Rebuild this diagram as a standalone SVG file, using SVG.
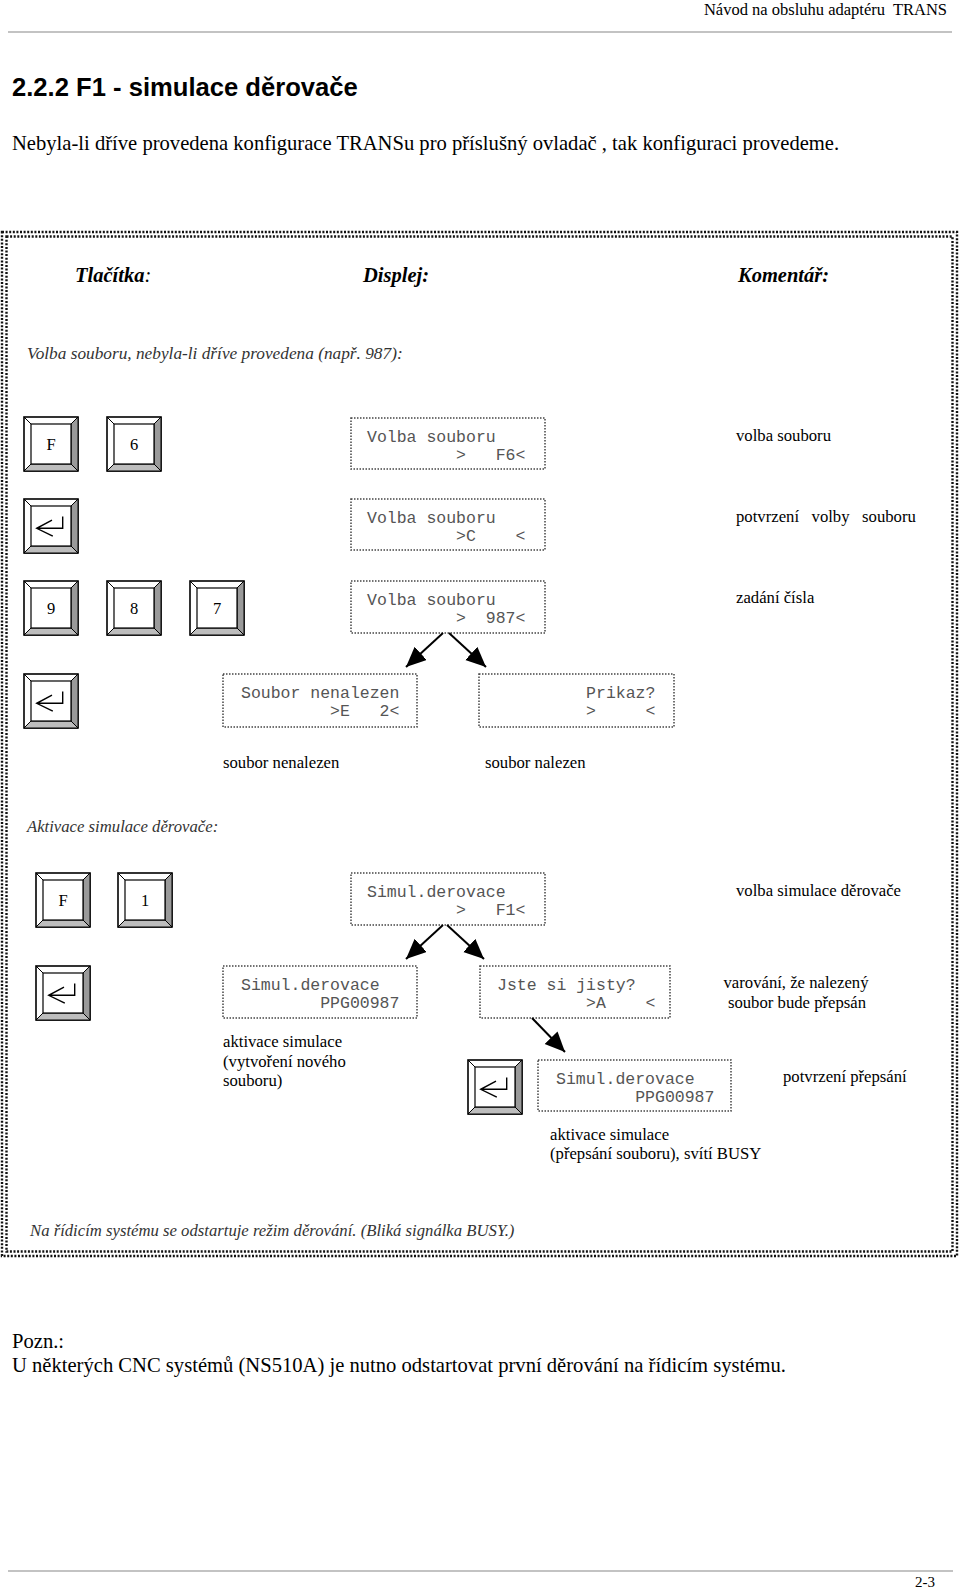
<svg xmlns="http://www.w3.org/2000/svg" width="960" height="1591" viewBox="0 0 960 1591">
<style>
.serif{font-family:"Liberation Serif","Times New Roman",serif;fill:#000}
.hdr{font-size:16.5px}
.title{font-family:"Liberation Sans",Arial,sans-serif;font-weight:bold;font-size:25.6px}
.body{font-size:20.6px}
.colh{font-size:20.5px;font-weight:bold;font-style:italic}
.it{font-size:16.7px;font-style:italic;fill:#333}
.cm{font-size:16.7px}
.key{font-size:16.5px}
.mono{font-family:"Liberation Mono","Courier New",monospace;font-size:16.5px;fill:#555}
.disp{fill:#fff;stroke:#444;stroke-width:1.5;stroke-dasharray:1.5 1.5}
.border{fill:none;stroke:#111;stroke-width:2.4;stroke-dasharray:2 1.6}
.kout{fill:#fff;stroke:#000;stroke-width:1.6}
.kin{fill:#fff;stroke:#000;stroke-width:1.2}
.kr{fill:#9a9a9a;stroke:#000;stroke-width:1}
.kb{fill:#bdbdbd;stroke:#000;stroke-width:1}
.kl{stroke:#000;stroke-width:1;fill:none}
.ent{stroke:#000;stroke-width:1.4;fill:none}
.arr{stroke:#000;stroke-width:2;fill:none}
</style>
<defs>
<marker id="ah" markerUnits="userSpaceOnUse" markerWidth="22" markerHeight="20" refX="20" refY="9" orient="auto">
<path d="M0,0 L20,9 L0,18 z" fill="#000"/>
</marker>
<g id="keybase">
<rect class="kout" x="0" y="0" width="54" height="54"/>
<polygon class="kr" points="47,7 54,0 54,54 47,47"/>
<polygon class="kb" points="7,47 47,47 54,54 0,54"/>
<rect class="kin" x="7" y="7" width="40" height="40"/>
<path class="kl" d="M0,0 L7,7 M54,0 L47,7"/>
</g>
<g id="enterkey">
<use href="#keybase"/>
<path class="ent" d="M38.7,17.5 V29.3 H12.7 M28,21.2 L12.7,29.3 L28.8,37.2"/>
</g>
</defs>

<rect width="960" height="1591" fill="#fff"/>

<g id="header">
<text class="serif hdr" x="947" y="15" text-anchor="end" xml:space="preserve">Návod na obsluhu adaptéru  TRANS</text>
<line x1="8" y1="32" x2="952" y2="32" stroke="#888" stroke-width="1.2"/>
</g>

<text class="title" x="12" y="96">2.2.2 F1 - simulace děrovače</text>
<text class="serif body" x="12" y="150">Nebyla-li dříve provedena konfigurace TRANSu pro příslušný ovladač , tak konfiguraci provedeme.</text>

<g id="frame">
<rect class="border" x="2" y="232" width="955" height="1024"/>
<rect class="border" x="6.5" y="236.5" width="946" height="1015"/>
</g>

<g id="column-headers">
<text class="serif colh" x="75" y="282">Tlačítka<tspan font-weight="normal">:</tspan></text>
<text class="serif colh" x="363" y="282">Displej:</text>
<text class="serif colh" x="738" y="282">Komentář:</text>
</g>

<text class="serif it" x="27" y="359" style="font-size:17.3px">Volba souboru, nebyla-li dříve provedena (např. 987):</text>

<!-- Row 1 -->
<g id="key-F-1" transform="translate(24,417)"><use href="#keybase"/><text class="serif key" x="27" y="33" text-anchor="middle">F</text></g>
<g id="key-6" transform="translate(107,417)"><use href="#keybase"/><text class="serif key" x="27" y="33" text-anchor="middle">6</text></g>
<g id="disp-1">
<rect class="disp" x="351" y="418" width="194" height="51"/>
<text class="mono" x="367" y="441.5" xml:space="preserve">Volba souboru</text>
<text class="mono" x="367" y="459.5" xml:space="preserve">         &gt;   F6&lt;</text>
</g>
<text id="cm-1" class="serif cm" x="736" y="441">volba souboru</text>

<!-- Row 2 -->
<g id="key-enter-1" transform="translate(24,499)"><use href="#enterkey"/></g>
<g id="disp-2">
<rect class="disp" x="351" y="499" width="194" height="51"/>
<text class="mono" x="367" y="522.5" xml:space="preserve">Volba souboru</text>
<text class="mono" x="367" y="540.5" xml:space="preserve">         &gt;C    &lt;</text>
</g>
<text id="cm-2" class="serif cm" x="736" y="522" xml:space="preserve">potvrzení   volby   souboru</text>

<!-- Row 3 -->
<g id="key-9" transform="translate(24,581)"><use href="#keybase"/><text class="serif key" x="27" y="33" text-anchor="middle">9</text></g>
<g id="key-8" transform="translate(107,581)"><use href="#keybase"/><text class="serif key" x="27" y="33" text-anchor="middle">8</text></g>
<g id="key-7" transform="translate(190,581)"><use href="#keybase"/><text class="serif key" x="27" y="33" text-anchor="middle">7</text></g>
<g id="disp-3">
<rect class="disp" x="351" y="581" width="194" height="52"/>
<text class="mono" x="367" y="604.5" xml:space="preserve">Volba souboru</text>
<text class="mono" x="367" y="622.5" xml:space="preserve">         &gt;  987&lt;</text>
</g>
<text id="cm-3" class="serif cm" x="736" y="603">zadání čísla</text>

<!-- Row 4 -->
<g id="key-enter-2" transform="translate(24,674)"><use href="#enterkey"/></g>
<g id="disp-nenalezen">
<rect class="disp" x="223" y="674" width="194" height="53"/>
<text class="mono" x="241" y="698" xml:space="preserve">Soubor nenalezen</text>
<text class="mono" x="241" y="716" xml:space="preserve">         &gt;E   2&lt;</text>
</g>
<g id="disp-prikaz">
<rect class="disp" x="479" y="674" width="195" height="53"/>
<text class="mono" x="497" y="698" xml:space="preserve">         Prikaz?</text>
<text class="mono" x="497" y="716" xml:space="preserve">         &gt;     &lt;</text>
</g>
<text class="serif cm" x="223" y="768">soubor nenalezen</text>
<text class="serif cm" x="485" y="768">soubor nalezen</text>

<text class="serif it" x="27" y="832">Aktivace simulace děrovače:</text>

<!-- Row 5 -->
<g id="key-F-2" transform="translate(36,873)"><use href="#keybase"/><text class="serif key" x="27" y="33" text-anchor="middle">F</text></g>
<g id="key-1" transform="translate(118,873)"><use href="#keybase"/><text class="serif key" x="27" y="33" text-anchor="middle">1</text></g>
<g id="disp-simul-1">
<rect class="disp" x="351" y="873" width="194" height="52"/>
<text class="mono" x="367" y="896.5" xml:space="preserve">Simul.derovace</text>
<text class="mono" x="367" y="914.5" xml:space="preserve">         &gt;   F1&lt;</text>
</g>
<text id="cm-5" class="serif cm" x="736" y="896">volba simulace děrovače</text>

<!-- Row 6 -->
<g id="key-enter-3" transform="translate(36,966)"><use href="#enterkey"/></g>
<g id="disp-simul-2">
<rect class="disp" x="223" y="966" width="194" height="52"/>
<text class="mono" x="241" y="989.5" xml:space="preserve">Simul.derovace</text>
<text class="mono" x="241" y="1007.5" xml:space="preserve">        PPG00987</text>
</g>
<g id="disp-jste">
<rect class="disp" x="480" y="966" width="190" height="52"/>
<text class="mono" x="497" y="989.5" xml:space="preserve">Jste si jisty?</text>
<text class="mono" x="497" y="1007.5" xml:space="preserve">         &gt;A    &lt;</text>
</g>
<text class="serif cm" x="796" y="988" text-anchor="middle">varování, že nalezený</text>
<text class="serif cm" x="797" y="1008" text-anchor="middle">soubor bude přepsán</text>
<text class="serif cm" x="223" y="1047">aktivace simulace</text>
<text class="serif cm" x="223" y="1067">(vytvoření nového</text>
<text class="serif cm" x="223" y="1086">souboru)</text>

<!-- Row 7 -->
<g id="key-enter-4" transform="translate(468,1060)"><use href="#enterkey"/></g>
<g id="disp-simul-3">
<rect class="disp" x="538" y="1060" width="193" height="51"/>
<text class="mono" x="556" y="1083.5" xml:space="preserve">Simul.derovace</text>
<text class="mono" x="556" y="1101.5" xml:space="preserve">        PPG00987</text>
</g>
<text class="serif cm" x="783" y="1082">potvrzení přepsání</text>
<text class="serif cm" x="550" y="1140">aktivace simulace</text>
<text class="serif cm" x="550" y="1159">(přepsání souboru), svítí BUSY</text>

<text class="serif it" x="30" y="1236">Na řídicím systému se odstartuje režim děrování. (Bliká signálka BUSY.)</text>

<g id="connectors">
<line class="arr" x1="443" y1="633" x2="406" y2="667" marker-end="url(#ah)"/>
<line class="arr" x1="449" y1="633" x2="486" y2="667" marker-end="url(#ah)"/>
<line class="arr" x1="443" y1="925" x2="406" y2="959" marker-end="url(#ah)"/>
<line class="arr" x1="447" y1="925" x2="484" y2="959" marker-end="url(#ah)"/>
<line class="arr" x1="532" y1="1018" x2="565" y2="1052" marker-end="url(#ah)"/>
</g>

<text class="serif body" x="12" y="1348">Pozn.:</text>
<text class="serif body" x="12" y="1372">U některých CNC systémů (NS510A) je nutno odstartovat první děrování na řídicím systému.</text>

<g id="footer">
<line x1="8" y1="1571" x2="953" y2="1571" stroke="#888" stroke-width="1.2"/>
<text class="serif hdr" x="915" y="1587" style="font-size:15px">2-3</text>
</g>
</svg>
